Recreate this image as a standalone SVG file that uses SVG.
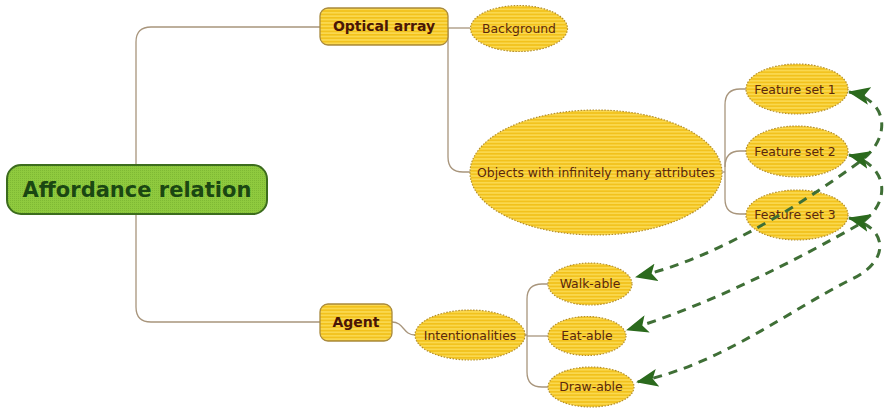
<svg xmlns="http://www.w3.org/2000/svg" width="886" height="411" viewBox="0 0 886 411">
  <defs>
    <!-- striped yellow fill used by topic shapes -->
    <pattern id="stripes" width="6" height="3.4" patternUnits="userSpaceOnUse">
      <rect width="6" height="3.4" fill="#fad84e"/>
      <rect width="6" height="1.6" fill="#f2c11a"/>
    </pattern>
    <!-- fine speckled green fill for the central topic -->
    <pattern id="speckle" width="2" height="2" patternUnits="userSpaceOnUse">
      <rect width="2" height="2" fill="#8fca3e"/>
      <rect width="1" height="1" fill="#7fb934"/>
    </pattern>
    <marker id="arrow" viewBox="0 0 22 18" refX="21" refY="9" markerWidth="22" markerHeight="18" markerUnits="userSpaceOnUse" orient="auto-start-reverse">
      <path d="M0,0 L22,9 L0,18 L5,9 Z" fill="#2b6a1d"/>
    </marker>
  </defs>
  <style>
    .link { fill: none; stroke: #a8957c; stroke-width: 1.3; }
    .rel { fill: none; stroke: #3f6f36; stroke-width: 3; stroke-dasharray: 9 7; }
    .box { fill: url(#stripes); stroke: #a98a3e; stroke-width: 1.3; }
    .oval { fill: url(#stripes); stroke: #b48f2c; stroke-width: 1.2; stroke-dasharray: 1.5 1.5; }
    .root { fill: url(#speckle); stroke: #3c6c1d; stroke-width: 2; }
    .rootText { font-family: "DejaVu Sans", Verdana, sans-serif; font-weight: bold; font-size: 21px; fill: #1b4712; text-anchor: middle; }
    .boxText { font-family: "DejaVu Sans", Verdana, sans-serif; font-weight: bold; font-size: 14px; fill: #4a1606; text-anchor: middle; }
    .ovalText { font-family: "DejaVu Sans", Verdana, sans-serif; font-size: 12.4px; fill: #5a280c; text-anchor: middle; }
  </style>

  <rect width="886" height="411" fill="#ffffff"/>

  <g id="connectors">
    <path class="link" d="M136,165 L136,42 Q136,27 151,27 L320,27"/>
    <path class="link" d="M136,214 L136,307 Q136,322 151,322 L320,322"/>
    <path class="link" d="M448,28 L470,28"/>
    <path class="link" d="M448,28 L448,157 Q448,172 463,172 L470,172"/>
    <path class="link" d="M722,172 L725,172"/>
    <path class="link" d="M725,105 Q725,89 740,89 L746,89"/>
    <path class="link" d="M725,105 L725,199"/>
    <path class="link" d="M725,167 Q725,151 740,151 L746,151"/>
    <path class="link" d="M725,199 Q725,214 740,214 L746,214"/>
    <path class="link" d="M392,322 C404,322 403,335 415,335"/>
    <path class="link" d="M525,335 L527,335"/>
    <path class="link" d="M527,299 Q527,284 542,284 L548,284"/>
    <path class="link" d="M527,299 L527,372"/>
    <path class="link" d="M527,336 L548,336"/>
    <path class="link" d="M527,372 Q527,387 542,387 L548,387"/>
  </g>

  <g id="affordance-relation">
    <rect class="root" x="7" y="165" width="260" height="49" rx="14"/>
    <text class="rootText" x="137" y="197">Affordance relation</text>
  </g>

  <g id="optical-array">
    <rect class="box" x="320" y="8" width="128" height="37" rx="8"/>
    <text class="boxText" x="384" y="31">Optical array</text>
  </g>

  <g id="background">
    <ellipse class="oval" cx="519" cy="28.5" rx="48.5" ry="23"/>
    <text class="ovalText" x="519" y="33">Background</text>
  </g>

  <g id="objects">
    <ellipse class="oval" cx="596" cy="172.5" rx="126" ry="62.5"/>
    <text class="ovalText" x="596" y="177">Objects with infinitely many attributes</text>
  </g>

  <g id="feature-set-1">
    <ellipse class="oval" cx="797" cy="89" rx="51" ry="25"/>
    <text class="ovalText" x="795" y="94">Feature set 1</text>
  </g>

  <g id="feature-set-2">
    <ellipse class="oval" cx="797" cy="151.5" rx="51" ry="25.5"/>
    <text class="ovalText" x="795" y="156">Feature set 2</text>
  </g>

  <g id="feature-set-3">
    <ellipse class="oval" cx="797" cy="215" rx="51" ry="25"/>
    <text class="ovalText" x="795" y="219">Feature set 3</text>
  </g>

  <g id="agent">
    <rect class="box" x="320" y="304" width="72" height="37" rx="8"/>
    <text class="boxText" x="356" y="327">Agent</text>
  </g>

  <g id="intentionalities">
    <ellipse class="oval" cx="470" cy="335" rx="55" ry="25"/>
    <text class="ovalText" x="470" y="340">Intentionalities</text>
  </g>

  <g id="walk-able">
    <ellipse class="oval" cx="590" cy="284" rx="42" ry="21"/>
    <text class="ovalText" x="590" y="288">Walk-able</text>
  </g>

  <g id="eat-able">
    <ellipse class="oval" cx="587" cy="336" rx="39" ry="19.5"/>
    <text class="ovalText" x="587" y="340">Eat-able</text>
  </g>

  <g id="draw-able">
    <ellipse class="oval" cx="591" cy="387" rx="43" ry="20"/>
    <text class="ovalText" x="591" y="391">Draw-able</text>
  </g>

  <!-- dashed relationship lines, drawn above the topics they cross -->
  <g id="relations">
    <path class="rel" marker-start="url(#arrow)" marker-end="url(#arrow)" d="M849,92 C890,100 892,140 858,163 C810,198 720,258 636,277"/>
    <path class="rel" marker-start="url(#arrow)" marker-end="url(#arrow)" d="M849,155 C890,165 892,205 858,225 C800,258 710,305 627,330"/>
    <path class="rel" marker-start="url(#arrow)" marker-end="url(#arrow)" d="M849,218 C890,228 890,262 850,280 C790,310 720,365 637,382"/>
  </g>
</svg>
